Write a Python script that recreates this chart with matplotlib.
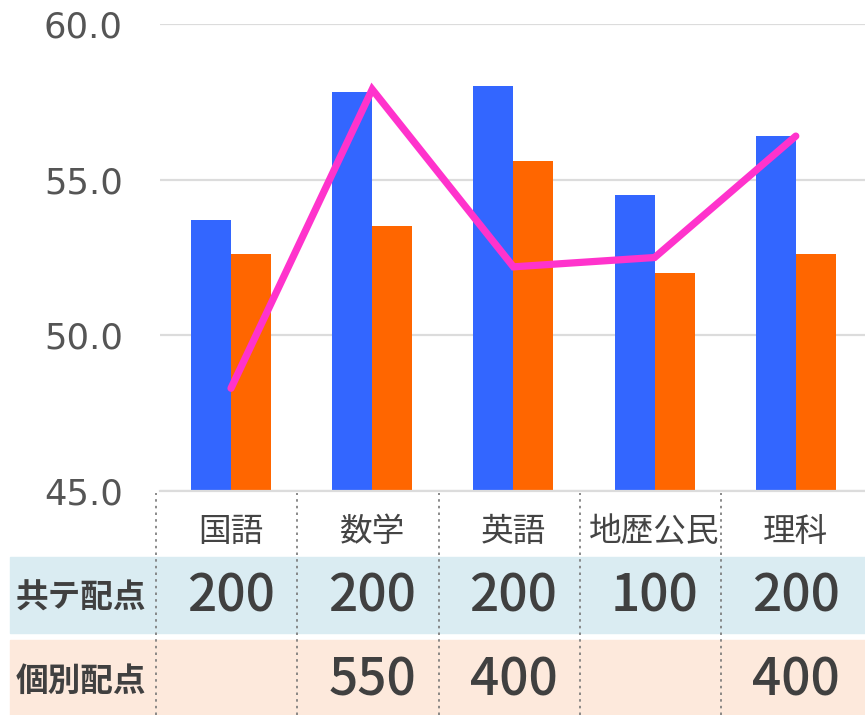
import matplotlib as mpl
mpl.use('Agg')
import matplotlib.pyplot as plt
import numpy as np

plt.rcParams['font.family'] = ['Noto Sans CJK JP', 'DejaVu Sans']

subjects = ["国語", "数学", "英語", "地歴公民", "理科"]
blue_vals = [53.7, 57.8, 58.0, 54.5, 56.4]
orange_vals = [52.6, 53.5, 55.6, 52.0, 52.6]
line_vals = [48.3, 57.9, 52.2, 52.5, 56.4]
kyotei_pts = ["200", "200", "200", "100", "200"]
kobetsu_pts = ["", "550", "400", "", "400"]
row_names = ["共テ配点", "個別配点"]
yticks = [45.0, 50.0, 55.0, 60.0]

W, H = 865, 715
fig = plt.figure(figsize=(W / 100, H / 100), dpi=100)

# chart area (pixel layout)
left, right, top, bottom = 160.4, 865, 24, 491
slot = 141.2
ax = fig.add_axes([left / W, (H - bottom) / H, (right - left) / W, (bottom - top) / H])
x = np.arange(len(subjects))
bw = 0.283
ax.bar(x - bw / 2, blue_vals, bw, color="#3366ff", zorder=2)
ax.bar(x + bw / 2, orange_vals, bw, color="#ff6600", zorder=2)
ax.plot(x, line_vals, color="#ff33cc", lw=5.2, solid_capstyle="round",
        solid_joinstyle="miter", zorder=3)

ax.set_ylim(45, 60)
ax.set_xlim(-0.5, -0.5 + (right - left) / slot)
ax.set_yticks(yticks)
ax.set_yticklabels([f"{v:.1f}" for v in yticks], fontsize=25.5, color="#555555")
ax.tick_params(axis="y", length=0, pad=27)
ax.set_xticks([])
ax.grid(axis="y", color="#dcdcdc", lw=1.6, zorder=0)
for s in ["top", "right", "left"]:
    ax.spines[s].set_visible(False)
ax.spines["bottom"].set_color("#dcdcdc")
ax.spines["bottom"].set_linewidth(1.6)
for lab in ax.get_yticklabels():
    lab.set_fontfamily("DejaVu Sans")

# table area
tx = fig.add_axes([0, 0, 1, (H - bottom) / H])
tx.set_xlim(-0.5 - left / slot, -0.5 + (W - left) / slot)
tx.set_ylim(0, H - bottom)
tx.axis("off")
tx.axhspan(H - 633, H - 557, xmin=10 / W, xmax=1, color="#daecf2", zorder=0)
tx.axhspan(0, H - 640, xmin=10 / W, xmax=1, color="#fde9dc", zorder=0)
for k in range(len(subjects)):
    tx.plot([k - 0.5 - 0.03, k - 0.5 - 0.03], [0, H - bottom - 2], ls=(0, (1.5, 2.5)),
            color="#777777", lw=1.2, zorder=1)
for i, s in enumerate(subjects):
    tx.text(i, H - 532, s, ha="center", va="center", fontsize=23.5, color="#444444")
    tx.text(i, H - 597, kyotei_pts[i], ha="center", va="center", fontsize=37,
            color="#404040", fontweight="medium")
    if kobetsu_pts[i]:
        tx.text(i, H - 680, kobetsu_pts[i], ha="center", va="center", fontsize=37,
                color="#404040", fontweight="medium")
tx.text(81 / W, (H - 598) / (H - bottom), row_names[0], transform=tx.transAxes,
        ha="center", va="center", fontsize=23.5, fontweight="bold", color="#404040")
tx.text(81 / W, (H - 681) / (H - bottom), row_names[1], transform=tx.transAxes,
        ha="center", va="center", fontsize=23.5, fontweight="bold", color="#404040")

fig.savefig("out.png", dpi=100)
